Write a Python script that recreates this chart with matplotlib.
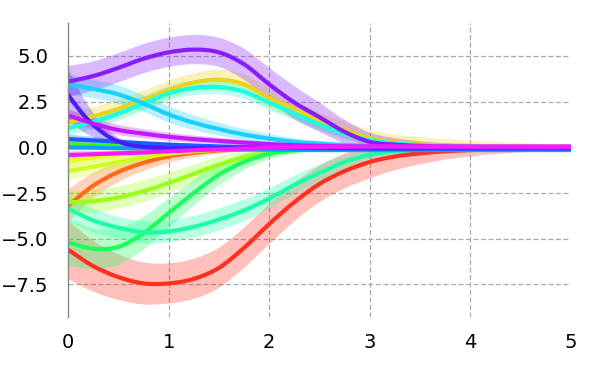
import numpy as np
import matplotlib
matplotlib.use("Agg")
import matplotlib.pyplot as plt
from matplotlib.path import Path
from matplotlib.patches import PathPatch

# common x grid (0 to 5 step 0.25)
x = [0, .25, .5, .75, 1, 1.25, 1.5, 1.75, 2, 2.25, 2.5, 2.75, 3, 3.25, 3.5, 3.75, 4, 4.25, 4.5, 4.75, 5]
# fast-decaying curve has its own x grid
x_fast = [0, .05, .1, .15, .2, .3, .4, .5, .6, .75, 1, 1.5, 2, 3, 4, 5]

red_mean = [-5.6, -6.5, -7.1, -7.45, -7.45, -7.2, -6.6, -5.5, -4.2, -3.0, -2.0, -1.3, -0.8, -0.5, -0.33, -0.22, -0.15, -0.1, -0.08, -0.06, -0.05]
red_sd = [1.6, 1.4, 1.25, 1.15, 1.1, 1.1, 1.1, 1.1, 1.1, 1.05, 1.0, 0.95, 0.9, 0.75, 0.6, 0.45, 0.35, 0.27, 0.2, 0.15, 0.12]

orange_mean = [-3.2, -2.1, -1.35, -0.85, -0.5, -0.3, -0.17, -0.1, -0.05, -0.03, -0.02, -0.01, 0, 0, 0, 0, 0, 0, 0, 0, 0]
orange_sd = [0.9, 0.7, 0.55, 0.45, 0.35, 0.25, 0.18, 0.12, 0.08, 0.06, 0.05, 0.04, 0.03, 0.03, 0.03, 0.03, 0.03, 0.03, 0.03, 0.03, 0.03]

gold_mean = [1.35, 1.7, 2.1, 2.6, 3.15, 3.55, 3.7, 3.45, 2.7, 2.1, 1.45, 0.95, 0.5, 0.28, 0.16, 0.1, 0.07, 0.05, 0.04, 0.03, 0.03]
gold_sd = [0.5, 0.5, 0.5, 0.5, 0.5, 0.5, 0.55, 0.55, 0.55, 0.5, 0.45, 0.45, 0.45, 0.42, 0.4, 0.35, 0.3, 0.25, 0.2, 0.15, 0.1]

ygreen2_mean = [-0.75, -0.55, -0.38, -0.25, -0.15, -0.08, -0.04, -0.02, 0, 0, 0, 0, 0, 0, 0, 0, 0, 0, 0, 0, 0]
ygreen2_sd = [0.35, 0.3, 0.25, 0.2, 0.15, 0.1, 0.08, 0.06, 0.05, 0.05, 0.05, 0.05, 0.05, 0.05, 0.05, 0.05, 0.05, 0.05, 0.05, 0.05, 0.05]

ygreen_mean = [-1.3, -1.05, -0.8, -0.55, -0.35, -0.22, -0.12, -0.07, -0.03, -0.01, 0, 0, 0, 0, 0, 0, 0, 0, 0, 0, 0]
ygreen_sd = [0.5, 0.45, 0.4, 0.32, 0.25, 0.18, 0.12, 0.08, 0.06, 0.05, 0.05, 0.05, 0.05, 0.05, 0.05, 0.05, 0.05, 0.05, 0.05, 0.05, 0.05]

lime_mean = [-3.0, -2.95, -2.75, -2.4, -1.95, -1.45, -0.95, -0.55, -0.3, -0.15, -0.08, -0.04, -0.02, -0.01, 0, 0, 0, 0, 0, 0, 0]
lime_sd = [0.6, 0.6, 0.6, 0.6, 0.55, 0.5, 0.45, 0.35, 0.25, 0.15, 0.1, 0.07, 0.05, 0.05, 0.05, 0.05, 0.05, 0.05, 0.05, 0.05, 0.05]

green2_mean = [0.18, 0.12, 0.08, 0.05, 0.03, 0.02, 0.01, 0, 0, 0, 0, 0, 0, 0, 0, 0, 0, 0, 0, 0, 0]
green2_sd = [0.2, 0.15, 0.1, 0.08, 0.06, 0.05, 0.05, 0.05, 0.05, 0.05, 0.05, 0.05, 0.05, 0.05, 0.05, 0.05, 0.05, 0.05, 0.05, 0.05, 0.05]

green_mean = [-5.2, -5.55, -5.45, -4.7, -3.6, -2.5, -1.5, -0.8, -0.35, -0.17, -0.08, -0.05, -0.03, -0.02, -0.01, 0, 0, 0, 0, 0, 0]
green_sd = [1.3, 1.1, 1.0, 0.9, 0.8, 0.7, 0.6, 0.45, 0.3, 0.2, 0.15, 0.1, 0.08, 0.06, 0.05, 0.05, 0.05, 0.05, 0.05, 0.05, 0.05]

aqua_mean = [-3.35, -4.0, -4.4, -4.65, -4.6, -4.35, -3.95, -3.45, -2.8, -2.05, -1.4, -0.8, -0.4, -0.2, -0.12, -0.08, -0.05, -0.04, -0.03, -0.02, -0.02]
aqua_sd = [0.7, 0.65, 0.6, 0.6, 0.6, 0.6, 0.6, 0.6, 0.55, 0.5, 0.45, 0.35, 0.25, 0.18, 0.12, 0.08, 0.06, 0.05, 0.04, 0.03, 0.03]

turq_mean = [1.05, 1.4, 1.85, 2.4, 2.95, 3.25, 3.3, 3.05, 2.45, 1.85, 1.25, 0.75, 0.4, 0.22, 0.12, 0.08, 0.05, 0.04, 0.03, 0.02, 0.02]
turq_sd = [0.4, 0.4, 0.4, 0.4, 0.4, 0.4, 0.4, 0.4, 0.4, 0.38, 0.35, 0.3, 0.22, 0.16, 0.12, 0.09, 0.07, 0.06, 0.05, 0.05, 0.05]

cyan_mean = [3.45, 3.2, 2.9, 2.4, 1.8, 1.35, 1.0, 0.7, 0.48, 0.3, 0.2, 0.13, 0.08, 0.05, 0.04, 0.03, 0.02, 0.01, 0, 0, 0]
cyan_sd = [0.55, 0.5, 0.5, 0.45, 0.45, 0.4, 0.35, 0.3, 0.25, 0.2, 0.15, 0.12, 0.1, 0.08, 0.07, 0.06, 0.05, 0.05, 0.05, 0.05, 0.05]

sky_mean = [0.0, -0.02, -0.04, -0.06, -0.08, -0.1, -0.11, -0.12, -0.13, -0.14, -0.15, -0.15, -0.15, -0.15, -0.15, -0.15, -0.15, -0.15, -0.15, -0.15, -0.15]
sky_sd = [0.15, 0.12, 0.1, 0.08, 0.07, 0.06, 0.05, 0.05, 0.05, 0.05, 0.05, 0.05, 0.05, 0.05, 0.05, 0.05, 0.05, 0.05, 0.05, 0.05, 0.05]

blue_mean = [0.45, 0.38, 0.3, 0.22, 0.15, 0.1, 0.05, 0.02, 0, -0.03, -0.05, -0.06, -0.07, -0.08, -0.08, -0.08, -0.08, -0.08, -0.08, -0.08, -0.08]
blue_sd = [0.25, 0.2, 0.15, 0.12, 0.1, 0.08, 0.06, 0.05, 0.05, 0.05, 0.05, 0.05, 0.05, 0.05, 0.05, 0.05, 0.05, 0.05, 0.05, 0.05, 0.05]

indigo_mean = [2.9, 2.5, 2.15, 1.8, 1.5, 1.0, 0.6, 0.32, 0.15, 0.03, -0.05, -0.05, -0.03, -0.02, -0.02, -0.02]
indigo_sd = [1.4, 1.25, 1.1, 0.95, 0.8, 0.55, 0.35, 0.22, 0.15, 0.1, 0.06, 0.05, 0.05, 0.05, 0.05, 0.05]

violet_mean = [3.6, 3.9, 4.35, 4.85, 5.2, 5.35, 5.2, 4.55, 3.45, 2.45, 1.65, 0.85, 0.3, 0.15, 0.08, 0.04, 0.02, 0.01, 0.01, 0, 0]
violet_sd = [0.85, 0.8, 0.8, 0.8, 0.8, 0.8, 0.8, 0.85, 0.9, 0.9, 0.8, 0.65, 0.5, 0.35, 0.25, 0.18, 0.12, 0.09, 0.07, 0.05, 0.04]

purple_mean = [1.75, 1.3, 0.95, 0.75, 0.58, 0.45, 0.35, 0.26, 0.18, 0.12, 0.08, 0.06, 0.04, 0.03, 0.02, 0.01, 0.01, 0, 0, 0, 0]
purple_sd = [0.35, 0.3, 0.28, 0.25, 0.22, 0.2, 0.17, 0.14, 0.12, 0.1, 0.08, 0.07, 0.06, 0.05, 0.05, 0.05, 0.05, 0.05, 0.05, 0.05, 0.05]

magenta_mean = [-0.42, -0.38, -0.33, -0.28, -0.22, -0.16, -0.11, -0.07, -0.03, 0, 0.02, 0.03, 0.04, 0.05, 0.05, 0.05, 0.05, 0.05, 0.05, 0.05, 0.05]
magenta_sd = [0.2, 0.18, 0.16, 0.15, 0.14, 0.13, 0.12, 0.11, 0.1, 0.1, 0.1, 0.1, 0.1, 0.1, 0.1, 0.1, 0.1, 0.1, 0.1, 0.1, 0.1]

series = [
    (x, red_mean, red_sd, "#ff3020"),
    (x, orange_mean, orange_sd, "#ff6a1a"),
    (x, gold_mean, gold_sd, "#ecd31a"),
    (x, ygreen2_mean, ygreen2_sd, "#e4ff1a"),
    (x, ygreen_mean, ygreen_sd, "#ccff1a"),
    (x, lime_mean, lime_sd, "#99ff1a"),
    (x, green2_mean, green2_sd, "#33ff1a"),
    (x, green_mean, green_sd, "#1aff5c"),
    (x, aqua_mean, aqua_sd, "#1affa6"),
    (x, turq_mean, turq_sd, "#1affe0"),
    (x, cyan_mean, cyan_sd, "#1ad0ff"),
    (x, sky_mean, sky_sd, "#1a9bff"),
    (x, blue_mean, blue_sd, "#1a5cff"),
    (x_fast, indigo_mean, indigo_sd, "#4d1aff"),
    (x, violet_mean, violet_sd, "#8a1aff"),
    (x, purple_mean, purple_sd, "#c21aff"),
    (x, magenta_mean, magenta_sd, "#f51aff"),
]


def bezier_segments(xs, ys):
    """Cubic Bezier (Hermite) path vertices/codes through the given points."""
    xs = np.asarray(xs, float); ys = np.asarray(ys, float)
    n = len(xs)
    m = np.empty(n)
    m[0] = (ys[1] - ys[0]) / (xs[1] - xs[0])
    m[-1] = (ys[-1] - ys[-2]) / (xs[-1] - xs[-2])
    for i in range(1, n - 1):
        m[i] = (ys[i + 1] - ys[i - 1]) / (xs[i + 1] - xs[i - 1])
    verts = [(xs[0], ys[0])]
    codes = [Path.MOVETO]
    for i in range(n - 1):
        dx = xs[i + 1] - xs[i]
        verts += [(xs[i] + dx / 3, ys[i] + m[i] * dx / 3),
                  (xs[i + 1] - dx / 3, ys[i + 1] - m[i + 1] * dx / 3),
                  (xs[i + 1], ys[i + 1])]
        codes += [Path.CURVE4] * 3
    return verts, codes


fig = plt.figure(figsize=(6, 3.75), dpi=100)
ax = fig.add_axes([0.1133, 0.1555, 0.8384, 0.7824])

for xs, mn, sd, c in series:
    mn = np.array(mn); sd = np.array(sd)
    vu, cu = bezier_segments(xs, mn + sd)
    vl, cl = bezier_segments(xs[::-1], (mn - sd)[::-1])
    verts = vu + [vl[0]] + vl[1:] + [vu[0]]
    codes = cu + [Path.LINETO] + cl[1:] + [Path.CLOSEPOLY]
    ax.add_patch(PathPatch(Path(verts, codes), facecolor=c, alpha=0.3, linewidth=0))
for xs, mn, sd, c in series:
    v, cd = bezier_segments(xs, mn)
    ax.add_patch(PathPatch(Path(v, cd), facecolor="none", edgecolor=c, lw=3, capstyle="butt"))

ax.set_xlim(0, 5)
ax.set_ylim(-9.27, 6.79)
ax.set_xticks([0, 1, 2, 3, 4, 5])
ax.set_yticks([-7.5, -5.0, -2.5, 0.0, 2.5, 5.0])
ax.set_yticklabels(["\u22127.5", "\u22125.0", "\u22122.5", "0.0", "2.5", "5.0"])
ax.grid(True, color="#aaaaaa", linestyle=(0, (4, 2)), linewidth=0.9)
ax.set_axisbelow(True)
for sp in ["top", "right", "bottom"]:
    ax.spines[sp].set_visible(False)
ax.spines["left"].set_color("#888888")
ax.spines["left"].set_linewidth(1.0)
ax.tick_params(axis="both", length=0, labelsize=14)
ax.tick_params(axis="y", pad=14)
ax.tick_params(axis="x", pad=12)
ax.get_xgridlines()[-1].set_visible(False)
ax.get_xgridlines()[0].set_visible(False)

fig.savefig("out.png", dpi=100)
